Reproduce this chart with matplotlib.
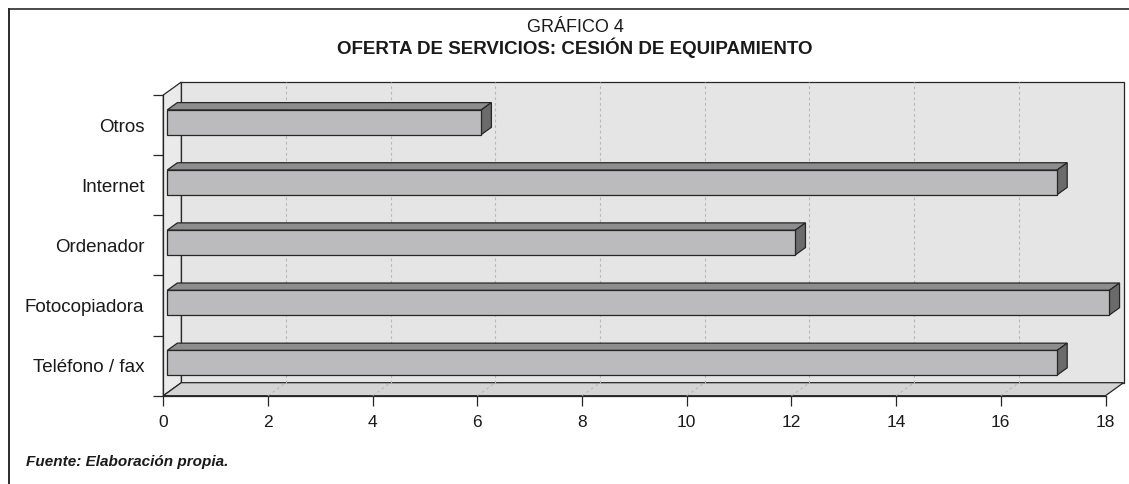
import matplotlib
matplotlib.use("Agg")
import matplotlib.pyplot as plt
from matplotlib.patches import Polygon
from matplotlib.lines import Line2D
from matplotlib.transforms import offset_copy, IdentityTransform

# datos (de abajo hacia arriba)
categorias = ["Teléfono / fax", "Fotocopiadora", "Ordenador", "Internet", "Otros"]
valores = [17, 18, 12, 17, 6]
ticks_x = [0, 2, 4, 6, 8, 10, 12, 14, 16, 18]

plt.rcParams["font.family"] = ["Liberation Sans", "DejaVu Sans"]

W, H = 1129, 484
fig = plt.figure(figsize=(W / 100, H / 100), dpi=100)
ax = fig.add_axes([163.3 / W, 1 - 395.7 / H, 942.2 / W, 300.7 / H])
ax.set_xlim(ticks_x[0], ticks_x[-1])
ax.set_ylim(0, len(categorias))
ax.patch.set_visible(False)

# perspectiva: desplazamiento del fondo en pixeles
DX, DY = 18, 13
d0, d1 = 0.22, 0.78  # profundidad de las barras
alto = 0.41
EDGE = "#262626"


def px(x, y, d=0.0):
    p = ax.transData.transform((x, y))
    return (p[0] + d * DX, p[1] + d * DY)


def poly(pts, **kw):
    ax.add_patch(Polygon(pts, closed=True, transform=IdentityTransform(),
                         clip_on=False, **kw))


def linea(p, q, **kw):
    ax.add_line(Line2D([p[0], q[0]], [p[1], q[1]], transform=IdentityTransform(),
                       clip_on=False, **kw))


xmax = ticks_x[-1]
n = len(categorias)

# paredes y suelo
poly([px(0, 0, 1), px(xmax, 0, 1), px(xmax, n, 1), px(0, n, 1)],
     facecolor="#e5e5e6", edgecolor=EDGE, lw=0.9, zorder=0.5)
poly([px(0, 0, 0), px(0, 0, 1), px(0, n, 1), px(0, n, 0)],
     facecolor="#eaeaea", edgecolor=EDGE, lw=0.9, zorder=0.5)
poly([px(0, 0, 0), px(xmax, 0, 0), px(xmax, 0, 1), px(0, 0, 1)],
     facecolor="#d4d4d5", edgecolor=EDGE, lw=0.9, zorder=0.5)

# rejilla punteada
for t in ticks_x[1:-1]:
    linea(px(t, 0, 1), px(t, n, 1), color="#b8b8b8", lw=0.8,
          dashes=(2.5, 2.5), zorder=0.8)
    linea(px(t, 0, 0), px(t, 0, 1), color="#b8b8b8", lw=0.8,
          dashes=(2.5, 2.5), zorder=0.8)

# barras: cara superior y lateral
ys = [i + 0.5 for i in range(n)]
for y, v in zip(ys, valores):
    poly([px(0, y + alto / 2, d0), px(v, y + alto / 2, d0),
          px(v, y + alto / 2, d1), px(0, y + alto / 2, d1)],
         facecolor="#8d8d8e", edgecolor=EDGE, lw=0.9, zorder=2)
    poly([px(v, y - alto / 2, d0), px(v, y - alto / 2, d1),
          px(v, y + alto / 2, d1), px(v, y + alto / 2, d0)],
         facecolor="#6b6b6c", edgecolor=EDGE, lw=0.9, zorder=2)

# cara frontal
frente = offset_copy(ax.transData, fig=fig, x=d0 * DX, y=d0 * DY, units="dots")
ax.barh(ys, valores, height=alto, left=0, color="#bbbbbd", edgecolor=EDGE,
        lw=0.9, transform=frente, zorder=3, clip_on=False)

# ejes
for s in ["top", "right"]:
    ax.spines[s].set_visible(False)
for s in ["left", "bottom"]:
    ax.spines[s].set_color(EDGE)
    ax.spines[s].set_linewidth(0.9)
    ax.spines[s].set_zorder(4)

ax.set_yticks(range(n + 1))
ax.set_yticklabels([])
ax.set_yticks(ys, minor=True)
ax.set_yticklabels(categorias, minor=True)
ax.tick_params(axis="y", which="major", length=7.2, width=0.9, color=EDGE)
ax.tick_params(axis="y", which="minor", length=0, pad=13.7, labelsize=13.5,
               labelcolor="#1a1a1a")
ax.set_xticks(ticks_x)
ax.set_xticklabels([str(t) for t in ticks_x])
ax.tick_params(axis="x", length=7.2, width=0.9, color=EDGE, pad=7,
               labelsize=12.5, labelcolor="#1a1a1a")

# titulos y fuente
fig.text(575 / W, 1 - 32.5 / H, "GRÁFICO 4", ha="center", va="baseline",
         fontsize=13, color="#1a1a1a")
fig.text(575 / W, 1 - 54.5 / H, "OFERTA DE SERVICIOS: CESIÓN DE EQUIPAMIENTO",
         ha="center", va="baseline", fontsize=13.5, fontweight="bold",
         color="#1a1a1a")
fig.text(26 / W, 1 - 466 / H, "Fuente: Elaboración propia.", ha="left",
         va="baseline", fontsize=11, fontweight="bold", style="italic",
         color="#1a1a1a")

# marco
fig.add_artist(Line2D([8.5 / W, 1], [1 - 9 / H, 1 - 9 / H],
                      transform=fig.transFigure, color="#4a4a4a", lw=1.4))
fig.add_artist(Line2D([8.5 / W, 8.5 / W], [1 - 9 / H, 0],
                      transform=fig.transFigure, color="#2a2a2a", lw=1.4))

fig.savefig("out.png", dpi=100)
